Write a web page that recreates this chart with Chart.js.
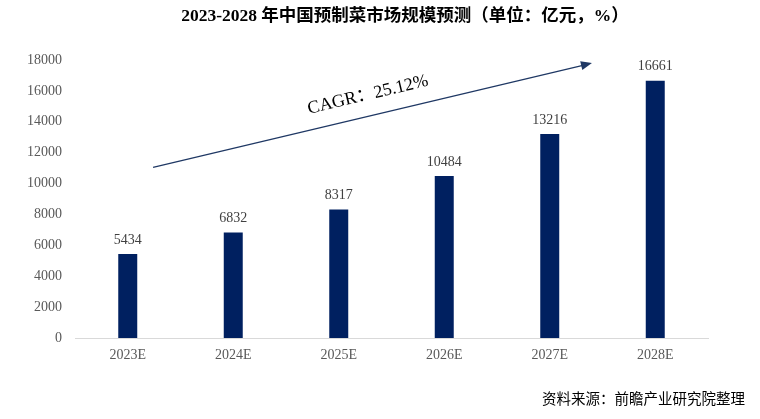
<!DOCTYPE html>
<html>
<head>
<meta charset="utf-8">
<script src="https://cdn.jsdelivr.net/npm/chart.js@4"></script>
<style>
  html, body { margin: 0; padding: 0; background: #fff; }
  #wrap { width: 760px; height: 419px; position: relative; }
</style>
</head>
<body>
<div id="wrap"><canvas id="chart"></canvas></div>
<script>
// data
const years = ['2023E', '2024E', '2025E', '2026E', '2027E', '2028E'];
const marketSize = [5434, 6832, 8317, 10484, 13216, 16661];
const yTicks = [0, 2000, 4000, 6000, 8000, 10000, 12000, 14000, 16000, 18000];
const titleText = '2023-2028 年中国预制菜市场规模预测（单位：亿元，%）';
const cagrText = 'CAGR：25.12%';
const sourceText = '资料来源：前瞻产业研究院整理';

const serif = '"Liberation Serif", "Times New Roman", "Noto Sans CJK SC", serif';
const cjk = '"Noto Sans CJK SC", "Noto Sans", sans-serif';

// draws title, value labels, the CAGR arrow and the source line
const extras = {
  id: 'extras',
  afterDatasetsDraw(chart) {
    const c = chart.ctx;
    const xs = chart.scales.x, ys = chart.scales.y;
    c.save();

    // title
    c.fillStyle = '#000';
    c.font = 'bold 17.5px ' + serif;
    c.textAlign = 'center';
    c.textBaseline = 'middle';
    c.fillText(titleText, 405, 16);

    // value labels
    c.font = '14px ' + serif;
    c.fillStyle = '#404040';
    c.textBaseline = 'bottom';
    chart.getDatasetMeta(0).data.forEach((bar, i) => {
      c.fillText(marketSize[i], bar.x, bar.y - 7);
    });

    // trend arrow, placed in scale units
    const x1 = xs.getPixelForValue(0.24), y1 = ys.getPixelForValue(11050);
    const x2 = xs.getPixelForValue(4.4), y2 = ys.getPixelForValue(17800);
    c.strokeStyle = '#1f3864';
    c.fillStyle = '#1f3864';
    c.lineWidth = 1.2;
    c.beginPath();
    c.moveTo(x1, y1);
    c.lineTo(x2 - 8, y2 + 2);
    c.stroke();
    const a = Math.atan2(y2 - y1, x2 - x1);
    c.beginPath();
    c.moveTo(x2, y2);
    c.lineTo(x2 - 11 * Math.cos(a) + 4.5 * Math.sin(a), y2 - 11 * Math.sin(a) - 4.5 * Math.cos(a));
    c.lineTo(x2 - 11 * Math.cos(a) - 4.5 * Math.sin(a), y2 - 11 * Math.sin(a) + 4.5 * Math.cos(a));
    c.closePath();
    c.fill();

    // CAGR text along the arrow
    c.save();
    c.translate(368, 95);
    c.rotate(a);
    c.font = '18px ' + serif;
    c.fillStyle = '#000';
    c.textAlign = 'center';
    c.textBaseline = 'middle';
    c.fillText(cagrText, 0, 0);
    c.restore();

    // source
    c.font = '14.5px ' + cjk;
    c.fillStyle = '#000';
    c.textAlign = 'right';
    c.textBaseline = 'middle';
    c.fillText(sourceText, 745, 398);

    c.restore();
  }
};

const ctx = document.getElementById('chart').getContext('2d');
const marketChart = new Chart(ctx, {
  type: 'bar',
  data: {
    labels: years,
    datasets: [{
      label: '市场规模',
      data: marketSize,
      backgroundColor: '#002060',
      barPercentage: 0.36,
      categoryPercentage: 0.5
    }]
  },
  options: {
    responsive: true,
    maintainAspectRatio: false,
    animation: false,
    layout: { padding: { top: 60, right: 52, bottom: 41, left: 0 } },
    plugins: {
      legend: { display: false },
      tooltip: { enabled: false }
    },
    scales: {
      x: {
        grid: { display: false, drawTicks: false },
        border: { display: true, color: '#d9d9d9', width: 1 },
        ticks: { color: '#595959', font: { family: serif, size: 14 }, padding: 9 },
        afterFit: s => { s.height = 40; }
      },
      y: {
        min: 0,
        max: 18000,
        grid: { display: false, drawTicks: false },
        border: { display: false },
        afterBuildTicks: s => { s.ticks = yTicks.map(v => ({ value: v })); },
        ticks: {
          color: '#595959',
          font: { family: serif, size: 14 },
          padding: 13,
          callback: v => String(v)
        },
        afterFit: s => { s.width = 75; }
      }
    }
  },
  plugins: [extras]
});
</script>
</body>
</html>
